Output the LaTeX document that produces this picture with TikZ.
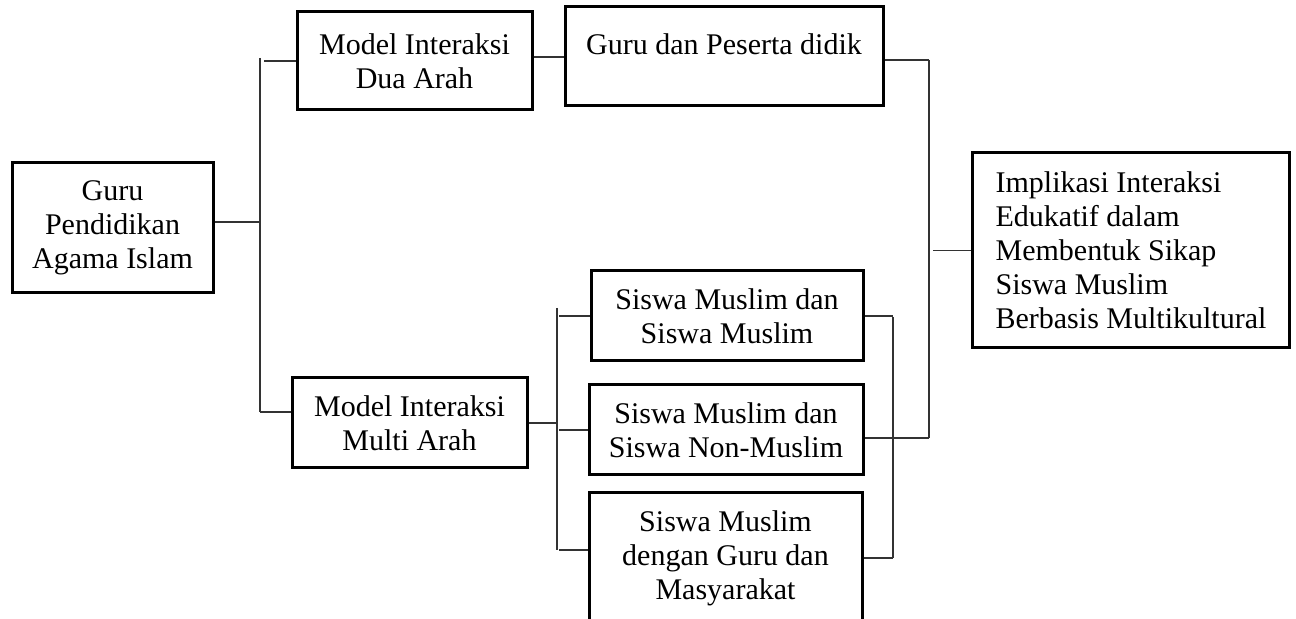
\documentclass[tikz,border=0pt]{standalone}
\usepackage{fontspec}
\setmainfont{Liberation Serif}
\usetikzlibrary{positioning}

\begin{document}
\begin{tikzpicture}[x=0.5pt, y=-0.5pt,
    every node/.style={align=center, font=\fontsize{15pt}{17pt}\selectfont},
    kotak/.style={draw=black, line width=1.5pt, inner sep=0pt, minimum width=117.5pt, minimum height=45pt},
    garis/.style={draw=black!80, line width=0.7pt}]
      \useasboundingbox (0,0) rectangle (1296,619);

      % kotak-kotak
      \node[kotak, minimum width=100.5pt, minimum height=65pt] (gpai) at (112.5,228) {Guru\\Pendidikan\\Agama Islam};
      \node[kotak, minimum height=49pt] (dua) at (414.5,61) {Model Interaksi\\Dua Arah};
      \node[kotak] (multi) at (409.5,423) {Model Interaksi\\Multi Arah};
      \node[kotak, minimum width=159pt, minimum height=0pt, text height=24pt, text depth=25.5pt] (gpd) at (724,56.5) {Guru dan Peserta didik};
      \node[kotak, minimum width=136pt] (sm1) at (727,316) {Siswa Muslim dan\\Siswa Muslim};
      \node[kotak, minimum width=137pt] (sm2) at (726,430) {Siswa Muslim dan\\Siswa Non-Muslim};
      \node[kotak, minimum width=136.5pt, minimum height=65pt] (sm3) at (725.5,558) {Siswa Muslim\\dengan Guru dan\\Masyarakat};
      \node[kotak, align=left, minimum width=154pt, minimum height=97.5pt, inner xsep=11.5pt] (impl) at (1131,250.5)
        {Implikasi Interaksi\\Edukatif dalam\\Membentuk Sikap\\Siswa Muslim\\Berbasis Multikultural};

      % kurung kiri
      \coordinate (ka) at (260,58); \coordinate (kb) at (260,412);
      \draw[garis] (ka) -- (kb);
      \draw[garis] ([yshift=3pt]gpai.east) -- ([yshift=3pt]gpai.east -| ka);
      \draw[garis] ([xshift=2pt]ka |- dua.west) -- (dua.west);
      \draw[garis] (kb) -- (kb -| multi.west);
      \draw[garis] ([yshift=2pt]dua.east) -- ([yshift=2pt]dua.east -| gpd.west);

      % kurung tengah
      \coordinate (ki) at (557,308); \coordinate (kj) at (557,550);
      \draw[garis] (ki) -- (kj);
      \draw[garis] (multi.east) -- (multi.east -| ki);
      \foreach \s in {sm1, sm2} {
        \draw[garis] ([xshift=1pt]\s.west -| ki) -- (\s.west);
      }
      \draw[garis] ([xshift=1pt]kj) -- (kj -| sm3.west);

      % kurung kanan
      \coordinate (ra) at (893,317); \coordinate (rb) at (893,558);
      \draw[garis] (ra) -- (rb);
      \draw[garis] (sm1.east) -- (sm1.east -| ra);
      \draw[garis] (sm3.east) -- (sm3.east -| rb);
      \coordinate (oa) at (929,60); \coordinate (ob) at (929,438);
      \draw[garis] (oa) -- (ob);
      \draw[garis] (gpd.east |- oa) -- (oa);
      \draw[garis] (sm2.east |- ob) -- (ob);
      \draw[garis] ([xshift=2pt]oa |- impl.west) -- (impl.west);
    \end{tikzpicture}
\end{document}
